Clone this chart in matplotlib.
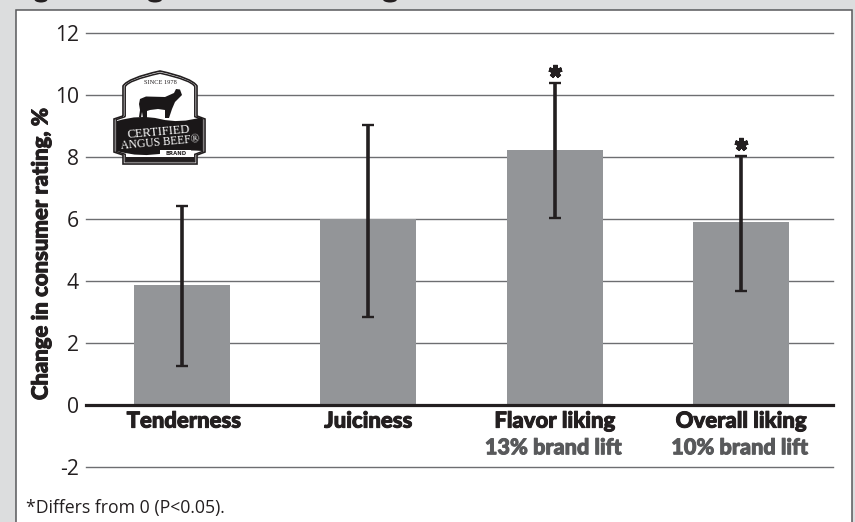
import matplotlib
matplotlib.use("Agg")
import matplotlib.pyplot as plt
import matplotlib.patheffects as pe
import numpy as np
from matplotlib.patches import Ellipse, PathPatch, Rectangle
from matplotlib.path import Path

# ── Data ──────────────────────────────────────────────────────────────────────
categories = ["Tenderness", "Juiciness", "Flavor liking", "Overall liking"]
sublabels = ["", "", "13% brand lift", "10% brand lift"]
values = [3.86, 5.98, 8.22, 5.89]
err_low = [1.25, 2.83, 6.03, 3.67]
err_high = [6.42, 9.02, 10.38, 8.03]
significant = [False, False, True, True]
yticks = [-2, 0, 2, 4, 6, 8, 10, 12]

W, H = 855, 522
BOLD = "Lato"
REG = "Open Sans"
DARK = "#231f20"
GREY = "#58595b"


def heavy(color, lw=0.7):
    # Lato Bold is lighter than the original face, so thicken it a little
    return [pe.withStroke(linewidth=lw, foreground=color)]


fig = plt.figure(figsize=(W / 100, H / 100), dpi=100, facecolor="#dcddde")

# ── Pixel-space layer for the panel and the logo ──────────────────────────────
bg = fig.add_axes([0, 0, 1, 1], zorder=0)
bg.set_xlim(0, W)
bg.set_ylim(H, 0)
bg.axis("off")
bg.add_patch(Rectangle((15.5, 10), 836, 520, fc="white", ec="#58595b", lw=1.1))

# the cropped title: only the tips of its descenders show at the very top
for gx, gw in [(41, 13), (155, 14), (390, 14)]:
    bg.add_patch(Ellipse((gx, -0.5), gw, 6, fc=DARK, ec="none"))

# ── Chart ─────────────────────────────────────────────────────────────────────
x0, x1, ytop, ybot = 86, 832.5, 32.7, 466.7
ax = fig.add_axes([x0 / W, 1 - ybot / H, (x1 - x0) / W, (ybot - ytop) / H], zorder=1)
ax.patch.set_alpha(0)
ax.set_xlim(-0.515, 3.491)
ax.set_ylim(-2, 12)
for s in ax.spines.values():
    s.set_visible(False)

xpos = np.arange(len(categories))
for t in yticks:
    if t != 0:
        ax.axhline(t, color="#6d6e71", lw=1.0, zorder=1, clip_on=False)
ax.bar(xpos, values, width=0.515, color="#939598", zorder=2)
ax.axhline(0, color=DARK, lw=2.3, zorder=3, clip_on=False)

low = np.array(values) - np.array(err_low)
high = np.array(err_high) - np.array(values)
ax.errorbar(xpos, values, yerr=[low, high], fmt="none", ecolor=DARK,
            elinewidth=2.6, capsize=4.4, capthick=1.7, zorder=4)

for x, top, sig in zip(xpos, err_high, significant):
    if sig:
        ax.plot(x, top + 0.37, marker=(5, 2, 0), ms=9.5, mew=3.2, color=DARK, zorder=4,
                clip_on=False)

ax.set_xticks([])
ax.set_yticks(yticks)
ax.set_yticklabels([str(t) for t in yticks], fontsize=15.2, family=REG, color=DARK)
ax.tick_params(axis="y", length=0, pad=5)

for x, c, sub in zip(xpos, categories, sublabels):
    ax.text(x + (0.01 if x == 0 else 0), -0.53, c, ha="center", va="center", fontsize=15.9,
            family=BOLD, weight="black", color=DARK, path_effects=heavy(DARK))
    if sub:
        ax.text(x - 0.008, -1.39, sub, ha="center", va="center", fontsize=15.6, family=BOLD,
                weight="black", color=GREY, path_effects=heavy(GREY))

bg.text(41, 254, "Change in consumer rating, %", rotation=90, ha="center", va="center",
        fontsize=15.9, family=BOLD, weight="black", color=DARK, path_effects=heavy(DARK))
bg.text(26, 508, "*Differs from 0 (P<0.05).", ha="left", va="center", fontsize=12.7,
        family=REG, color=DARK)

# ── Logo, over the gridlines ──────────────────────────────────────────────────
lg = fig.add_axes([0, 0, 1, 1], zorder=2)
lg.set_xlim(0, W)
lg.set_ylim(H, 0)
lg.axis("off")


def shield(a):
    # a: inset from outer edge
    M, L, C = Path.MOVETO, Path.LINETO, Path.CURVE3
    verts = [(123 + a, 116 + a * 0.3), (123 + a, 86 + a * 0.3), (128, 78 + a), (160, 71 + a),
             (192, 78 + a), (197 - a, 86 + a * 0.3), (197 - a, 116 + a * 0.3),
             (205 - a, 119 + a * 0.3), (205 - a, 152 - a * 0.3), (197 - a, 155 - a * 0.3),
             (197 - a, 164 - a), (123 + a, 164 - a), (123 + a, 155 - a * 0.3),
             (114 + a, 152 - a * 0.3), (114 + a, 119 + a * 0.3), (123 + a, 116 + a * 0.3)]
    codes = [M, L, C, C, C, C, L, L, L, L, L, L, L, L, L, L]
    return Path(verts, codes)


lg.add_patch(PathPatch(shield(0), fc="white", ec=DARK, lw=1.2))
lg.add_patch(PathPatch(shield(2.2), fc="white", ec=DARK, lw=1.1))

# black ribbon with a wavy top and bottom
M, L, C = Path.MOVETO, Path.LINETO, Path.CURVE3
ribbon = Path([(117, 121), (140, 114), (160, 119), (180, 124), (202, 117), (202, 151),
               (180, 149), (165, 153), (140, 158), (117, 151), (117, 121)],
              [M, C, C, C, C, L, C, C, C, C, L])
lg.add_patch(PathPatch(ribbon, fc="#1a1718", ec="none"))
lg.add_patch(Rectangle((126, 157), 68, 4, fc=DARK, ec="none"))
lg.add_patch(Rectangle((160, 150), 31, 7, fc="white", ec="none"))

cow = [(140, 99), (146, 96.5), (165, 97), (174, 93), (176, 89), (180, 89.5), (182, 95),
       (179, 98), (175, 102), (172, 109), (169, 118), (165, 118), (165, 110), (158, 109),
       (150, 110), (147, 111), (147, 118), (143, 118), (142, 112), (141, 118), (139, 117),
       (140, 110), (139, 104)]
lg.fill(*zip(*cow), color="#1a1718", lw=0)

lg.text(160, 82.5, "SINCE 1978", fontsize=4.6, family="Liberation Serif", color=DARK,
        ha="center", va="center")
lg.text(159, 132, "CERTIFIED", fontsize=9.0, family="Liberation Serif", color="white",
        ha="center", va="center", rotation=5)
lg.text(160.5, 142.5, "ANGUS BEEF\u00ae", fontsize=8.3, family="Liberation Serif", color="white",
        ha="center", va="center", rotation=5)
lg.text(176, 153.5, "BRAND", fontsize=3.8, family="DejaVu Sans", weight="bold", color=DARK,
        ha="center", va="center")

plt.savefig("out.png", dpi=100, facecolor=fig.get_facecolor())
plt.close()
